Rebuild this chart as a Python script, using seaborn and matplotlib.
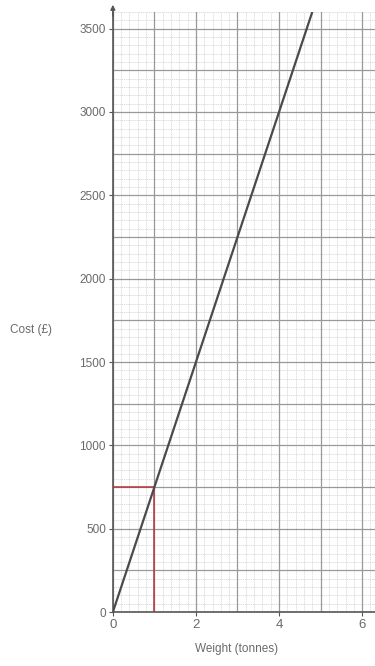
import numpy as np
import pandas as pd
import matplotlib
matplotlib.use("Agg")
import matplotlib.pyplot as plt
import seaborn as sns

# cost line: 750 per tonne
weight = [0, 4.8]
cost = [0, 3600]

# red read-off guide at 1 tonne
guide_weight = [0, 1, 1]
guide_cost = [750, 750, 0]

x_ticks = [0, 2, 4, 6]
y_ticks = [0, 500, 1000, 1500, 2000, 2500, 3000, 3500]

sns.set_theme(style="white")
plt.rcParams['font.family'] = ['Liberation Sans', 'DejaVu Sans']

fig = plt.figure(figsize=(3.75, 6.66), dpi=100)
ax = fig.add_axes([0.301, 0.081, 0.699, 0.901])

line_df = pd.DataFrame({"Weight": weight, "Cost": cost})
guide_df = pd.DataFrame({"Weight": guide_weight, "Cost": guide_cost})

ax.set_xlim(0, 6.31)
ax.set_ylim(0, 3600)

# graph paper grid
ax.set_xticks(np.arange(0, 6.4, 0.2), minor=True)
ax.set_yticks(np.arange(0, 3601, 50), minor=True)
ax.grid(which="minor", color="#d3d3d3", linewidth=0.5, linestyle=(0, (2, 1)))
for xv in np.arange(0, 6.4, 1):
    ax.axvline(xv, color="#999999", linewidth=0.9, zorder=1)
for yv in np.arange(0, 3601, 250):
    ax.axhline(yv, color="#999999", linewidth=0.9, zorder=1)

sns.lineplot(data=guide_df, x="Weight", y="Cost", sort=False, estimator=None,
             color="#b8323c", linewidth=1.1, ax=ax, zorder=3)
sns.lineplot(data=line_df, x="Weight", y="Cost", color="#4a4a4a",
             linewidth=1.6, ax=ax, zorder=4)

ax.set_xticks(x_ticks)
ax.set_yticks(y_ticks)
ax.set_xticklabels([str(v) for v in x_ticks], color="#6a6a6a", fontsize=9.5)
ax.set_yticklabels([str(v) for v in y_ticks], color="#6a6a6a", fontsize=8.5)
ax.tick_params(axis="both", which="major", length=3, width=0.8, color="#555555",
               bottom=True, left=True, pad=2)
ax.tick_params(axis="both", which="minor", length=0)

for side in ["top", "right"]:
    ax.spines[side].set_visible(False)
for side in ["left", "bottom"]:
    ax.spines[side].set_color("#555555")
    ax.spines[side].set_linewidth(1.2)

# arrow tip at the top of the cost axis
ax.annotate("", xy=(0, 3660), xytext=(0, 3560), xycoords="data",
            arrowprops=dict(arrowstyle="-|>", color="#555555", lw=1.0,
                            mutation_scale=7), annotation_clip=False)

ax.set_xlabel("")
ax.set_ylabel("")
fig.text(0.632, 0.016, "Weight (tonnes)", ha="center", va="bottom",
         color="#6a6a6a", fontsize=8.5)
fig.text(0.027, 0.505, "Cost (£)", ha="left", va="center",
         color="#6a6a6a", fontsize=8.5)

fig.savefig("out.png", dpi=100, facecolor="white")
